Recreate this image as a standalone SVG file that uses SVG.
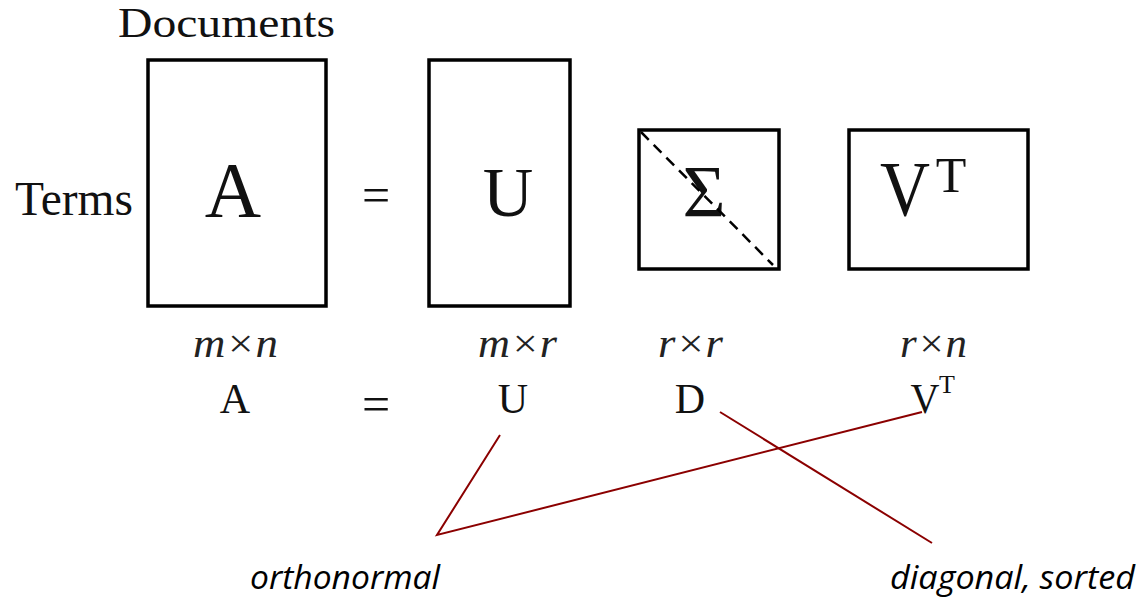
<svg xmlns="http://www.w3.org/2000/svg" width="1138" height="597" viewBox="0 0 1138 597">
<style>
.box{fill:#fff;stroke:#000;stroke-width:3.5}
.t{font-family:"Liberation Serif",serif;fill:#111}
.i{font-family:"Liberation Serif",serif;font-style:italic;fill:#222}
.c{font-family:"Open Sans","Liberation Sans",sans-serif;font-style:italic;fill:#000}
.red{stroke:#8b0000;stroke-width:2;fill:none}
</style>
<rect width="1138" height="597" fill="#fff"/>
<text class="t" x="118" y="37" font-size="42" textLength="217" lengthAdjust="spacingAndGlyphs">Documents</text>
<text class="t" x="15" y="215" font-size="48" textLength="118" lengthAdjust="spacingAndGlyphs">Terms</text>
<g id="matA">
<rect class="box" x="148" y="60" width="178" height="246"/>
<text class="t" x="233" y="216" font-size="78" text-anchor="middle">A</text>
</g>
<text class="t" x="376" y="212" font-size="50" text-anchor="middle">=</text>
<g id="matU">
<rect class="box" x="429" y="60" width="141" height="246"/>
<text class="t" x="508" y="216" font-size="70" text-anchor="middle">U</text>
</g>
<g id="matS">
<rect class="box" x="639" y="130" width="140" height="139"/>
<text class="t" x="704" y="217" font-size="74" text-anchor="middle">Σ</text>
<line x1="641" y1="132" x2="773" y2="265" stroke="#000" stroke-width="2.5" stroke-dasharray="11,7"/>
</g>
<g id="matV">
<rect class="box" x="849" y="130" width="179" height="139"/>
<text class="t" x="905" y="215" font-size="78" text-anchor="middle" textLength="50" lengthAdjust="spacingAndGlyphs">V</text>
<text class="t" x="951" y="192" font-size="50" text-anchor="middle">T</text>
</g>
<g id="dims">
<text class="i" x="193" y="357" font-size="40" textLength="85" lengthAdjust="spacingAndGlyphs">m×n</text>
<text class="i" x="478" y="357" font-size="40" textLength="79" lengthAdjust="spacingAndGlyphs">m×r</text>
<text class="i" x="658" y="357" font-size="40" textLength="65" lengthAdjust="spacingAndGlyphs">r×r</text>
<text class="i" x="900" y="357" font-size="40" textLength="67" lengthAdjust="spacingAndGlyphs">r×n</text>
</g>
<g id="formula">
<text class="t" x="235" y="413" font-size="42" text-anchor="middle">A</text>
<text class="t" x="376" y="421" font-size="50" text-anchor="middle">=</text>
<text class="t" x="513" y="413" font-size="42" text-anchor="middle">U</text>
<text class="t" x="690" y="413" font-size="42" text-anchor="middle">D</text>
<text class="t" x="925" y="413" font-size="42" text-anchor="middle" textLength="29" lengthAdjust="spacingAndGlyphs">V</text>
<text class="t" x="947" y="393" font-size="26" text-anchor="middle">T</text>
</g>
<g id="connectors">
<polyline class="red" points="500,435 437,535 922,412"/>
<line class="red" x1="720" y1="412" x2="932" y2="543"/>
</g>
<g id="labels">
<text class="c" x="250" y="589" font-size="32" textLength="190" lengthAdjust="spacingAndGlyphs">orthonormal</text>
<text class="c" x="890" y="589" font-size="32" textLength="245" lengthAdjust="spacingAndGlyphs">diagonal, sorted</text>
</g>
</svg>
